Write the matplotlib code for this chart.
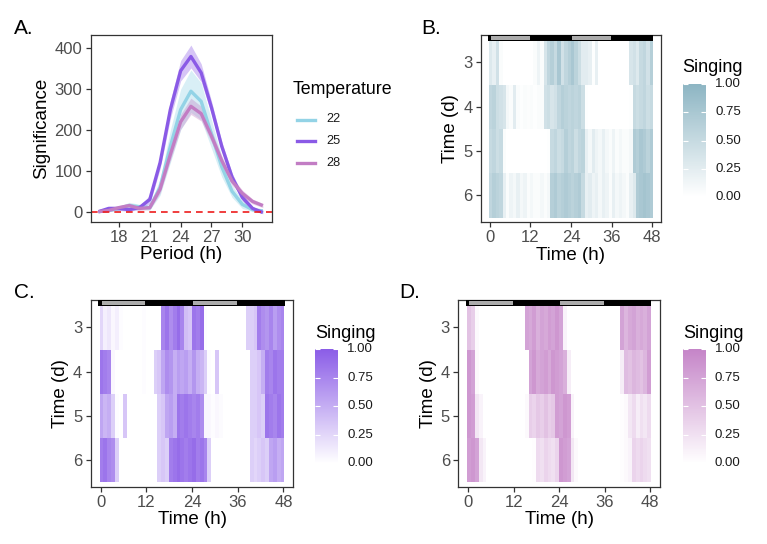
import numpy as np
import matplotlib
matplotlib.use("Agg")
import matplotlib.pyplot as plt
from matplotlib.colors import LinearSegmentedColormap
from matplotlib.patches import Rectangle
from matplotlib.lines import Line2D
from matplotlib.transforms import blended_transform_factory

plt.rcParams['font.family'] = ['Liberation Sans', 'DejaVu Sans']

# ---------------- data ----------------
period = [16, 17, 18, 19, 20, 21, 22, 23, 24, 25, 26, 27, 28, 29, 30, 31, 32]
temps = ["22", "25", "28"]
sig_22 = [0, 3, 8, 15, 12, 10, 60, 160, 250, 295, 270, 190, 110, 50, 18, 5, 2]
sig_25 = [0, 8, 8, 5, 10, 30, 120, 250, 345, 380, 340, 255, 160, 85, 35, 8, -2]
sig_28 = [0, 3, 10, 15, 8, 10, 55, 140, 220, 258, 240, 185, 125, 75, 45, 25, 15]
se_22 = [2, 3, 5, 8, 6, 6, 20, 40, 50, 52, 45, 35, 25, 15, 10, 5, 3]
se_25 = [2, 5, 5, 4, 5, 10, 15, 22, 25, 28, 22, 16, 12, 10, 8, 5, 3]
se_28 = [2, 3, 5, 6, 5, 5, 10, 15, 18, 20, 18, 15, 12, 10, 8, 6, 5]

hours = np.arange(48)           # hour bins
days = [3, 4, 5, 6]
cb_ticks = [0, 0.25, 0.5, 0.75, 1.0]
cb_labels = ["0.00", "0.25", "0.50", "0.75", "1.00"]

sing_22 = [
 [0.3,0.2,0.4,0.05, 0,0,0,0, 0,0,0,0, 0,0.05,0.15,0.05, 0.35,0.55,0.65,0.5, 0.75,0.4,0.55,0.65, 0.75,0.6,0.45,0.25, 0.25,0.2,0.02,0.2, 0,0,0,0, 0,0,0,0, 0,0.35,0.4,0.3, 0.5,0.55,0.4,0.65],
 [0.55,0.6,0.45,0.4, 0.35,0.1,0.05,0.25, 0.05,0.02,0.05,0.03, 0.05,0.02,0.05,0.05, 0.4,0.45,0.35,0.4, 0.55,0.65,0.6,0.55, 0.6,0.55,0.6,0.45, 0.02,0,0,0, 0,0,0,0, 0,0,0,0, 0,0.02,0.5,0.45, 0.5,0.55,0.45,0.5],
 [0.5,0.55,0.45,0.5, 0.05,0,0,0, 0,0,0,0, 0,0,0,0, 0,0.02,0.5,0.55, 0.45,0.5,0.65,0.55, 0.6,0.45,0.55,0.6, 0.2,0.1,0.25,0.15, 0.1,0.2,0.1,0.05, 0.15,0.05,0.1,0.05, 0.05,0.1,0.7,0.65, 0.75,0.7,0.6,0.7],
 [0.55,0.65,0.6,0.55, 0.2,0.05,0.15,0.1, 0.2,0.1,0.15,0.05, 0.1,0.05,0.05,0.1, 0.05,0.1,0.65,0.7, 0.6,0.65,0.7,0.65, 0.6,0.65,0.7,0.5, 0.2,0.25,0.15,0.2, 0.1,0.2,0.15,0.05, 0.2,0.1,0.15,0.1, 0.05,0.2,0.3,0.7, 0.75,0.8,0.75,0.7],
]
sing_25 = [
 [0.25,0.1,0.15,0.05, 0.1,0.02,0,0, 0,0,0,0.02, 0,0,0,0, 0.75,0.85,0.7,0.8, 0.9,0.75,0.4,0.35, 0.85,0.8,0.9,0.02, 0,0,0,0, 0,0,0,0, 0,0,0.3,0.3, 0.35,0.8,0.7,0.65, 0.75,0.6,0.7,0.75],
 [0.85,0.8,0.75,0.05, 0,0,0,0, 0,0,0,0.02, 0,0,0.3,0.35, 0.55,0.7,0.65,0.5, 0.6,0.55,0.6,0.5, 0.65,0.5,0.45,0.3, 0.02,0,0.35,0, 0,0,0,0, 0,0,0,0.3, 0.3,0.35,0.5,0.8, 0.75,0.85,0.8,0.8],
 [0.55,0.45,0.5,0.3, 0.02,0,0.35,0, 0,0,0,0, 0,0,0,0.3, 0.35,0.55,0.6,0.5, 0.85,0.8,0.85,0.8, 0.75,0.8,0.7,0.05, 0.05,0.02,0.05,0.03, 0,0,0,0, 0,0,0,0.3, 0.3,0.35,0.3,0.85, 0.8,0.75,0.85,0.8],
 [0.8,0.85,0.75,0.7, 0.3,0,0,0, 0,0,0,0, 0,0,0,0.3, 0.35,0.3,0.8,0.85, 0.9,0.85,0.8,0.85, 0.9,0.8,0.85,0.75, 0.3,0,0,0, 0,0,0,0, 0,0,0,0.3, 0.25,0.3,0.35,0.3, 0.55,0.6,0.5,0.55],
]
sing_28 = [
 [0.5,0.4,0.05,0, 0,0,0,0, 0,0,0,0, 0,0,0,0.75, 0.7,0.8,0.65,0.75, 0.7,0.8,0.75,0.85, 0.75,0.1,0,0, 0,0,0,0, 0,0,0,0, 0,0,0,0, 0.75,0.6,0.7,0.75, 0.65,0.7,0.65,0.75],
 [0.85,0.75,0.05,0, 0,0,0,0, 0,0,0,0, 0,0,0,0, 0.75,0.85,0.7,0.75, 0.8,0.7,0.85,0.8, 0.75,0.65,0.15,0, 0,0,0,0, 0,0,0,0, 0,0,0,0, 0.15,0.55,0.5,0.6, 0.55,0.5,0.6,0.8],
 [0.85,0.8,0.2,0.1, 0,0,0,0, 0,0,0,0, 0,0,0,0.05, 0.4,0.35,0.45,0.4, 0.5,0.4,0.45,0.8, 0.75,0.85,0.8,0.1, 0,0,0,0, 0,0,0,0, 0,0,0,0, 0.02,0.05,0.2,0.3, 0.15,0.25,0.2,0.3],
 [0.8,0.85,0.75,0.2, 0.1,0,0,0, 0,0,0,0, 0,0,0,0, 0,0.02,0.3,0.25, 0.35,0.3,0.25,0.35, 0.85,0.8,0.75,0.2, 0.05,0,0,0, 0,0,0,0, 0,0,0,0, 0.02,0.05,0.1,0.35, 0.3,0.35,0.3,0.25],
]

col_22 = "#93d3e6"
col_25 = "#8a5ae6"
col_28 = "#c27dc4"
heat_22 = "#8db5c3"
heat_25 = "#8b5de7"
heat_28 = "#c585c8"

W, H = 767, 544
fig = plt.figure(figsize=(W / 100, H / 100), dpi=100)

def ax_at(l, r, t, b):
    return fig.add_axes([l / W, 1 - b / H, (r - l) / W, (b - t) / H])

TICK_COL = "#4d4d4d"
def style(ax):
    for s in ax.spines.values():
        s.set_color("#333333")
        s.set_linewidth(0.9)
    ax.tick_params(direction="out", length=3.5, width=0.9, color="#333333",
                   labelcolor=TICK_COL, labelsize=12, pad=2.5)

# ---------------- Panel A ----------------
axA = ax_at(90.7, 271.7, 35, 221.7)
style(axA)
per = np.array(period)
for vals, se, c in [(sig_22, se_22, col_22), (sig_25, se_25, col_25), (sig_28, se_28, col_28)]:
    v = np.array(vals, float); s = np.array(se, float)
    axA.fill_between(per, v - s, v + s, color=c, alpha=0.35, lw=0)
for vals, c in [(sig_22, col_22), (sig_25, col_25), (sig_28, col_28)]:
    axA.plot(per, vals, color=c, lw=2.4, solid_capstyle="butt", solid_joinstyle="round")
axA.axhline(0, color="#ee1c1c", lw=1.2, ls=(0, (4, 3)))
axA.set_xlim(15.25, 32.86)
axA.set_ylim(-24.5, 432.6)
axA.set_xticks([18, 21, 24, 27, 30])
axA.set_yticks([0, 100, 200, 300, 400])
axA.set_xlabel("Period (h)", fontsize=13.5, labelpad=1)
axA.set_ylabel("Significance", fontsize=13.5, labelpad=3)

# legend for A
fig.text(293 / W, 1 - 90 / H, "Temperature", fontsize=12.8, va="center", ha="left")
for i, (lab, c) in enumerate(zip(temps, [col_22, col_25, col_28])):
    yy = 1 - (119.5 + i * 21.5) / H
    fig.add_artist(Line2D([296.5 / W, 314.5 / W], [yy, yy], color=c, lw=2.4,
                          transform=fig.transFigure))
    fig.text(326 / W, yy, lab, fontsize=9.2, va="center", ha="left", color="#1a1a1a")

# ---------------- Heatmaps ----------------
def heat(axpos, cbpos, data, color, title_y):
    ax = ax_at(*axpos)
    style(ax)
    cmap = LinearSegmentedColormap.from_list("c", ["#ffffff", color])
    edges_x = np.linspace(-0.25, 48.25, len(hours) + 1)
    d = np.array(days)
    edges_y = np.concatenate([d - 0.5, [d[-1] + 0.5]])
    m = ax.pcolormesh(edges_x, edges_y, np.array(data), cmap=cmap, vmin=0, vmax=1,
                      shading="flat", edgecolors="none", antialiased=False)
    ax.set_xlim(-2.6, 50.6)
    ax.set_ylim(6.6, 2.38)
    # light/dark bar
    ax.add_patch(Rectangle((-0.6, 2.38), 48.9, 0.135, facecolor="black", edgecolor="none", zorder=5))
    for x0 in (0, 24):
        ax.add_patch(Rectangle((x0 + 0.25, 2.405), 11.5, 0.085, facecolor="#ababab",
                               edgecolor="none", zorder=6))
    ax.set_xticks([0, 12, 24, 36, 48])
    ax.set_yticks(days)
    ax.set_xlabel("Time (h)", fontsize=13.5, labelpad=1)
    ax.set_ylabel("Time (d)", fontsize=13.5, labelpad=3)
    cax = ax_at(*cbpos)
    cb = fig.colorbar(m, cax=cax)
    cb.outline.set_visible(False)
    cb.set_ticks(cb_ticks)
    cax.tick_params(axis="y", direction="in", length=3.5, width=0.8, color="white",
                    left=True, right=True, labelright=False, labelleft=False)
    tr = blended_transform_factory(fig.transFigure, cax.transData)
    for v, lab in zip(cb_ticks, cb_labels):
        cax.text((cbpos[1] + 9) / W, v, lab, transform=tr, fontsize=9.5,
                 va="center", ha="left", color="#1a1a1a")
    fig.text(cbpos[0] / W, 1 - title_y / H, "Singing", fontsize=13, va="center", ha="left")
    return ax

heat((481, 661, 35, 222), (682.7, 706, 84.3, 196.7), sing_22, heat_22, 68)
heat((90.7, 293.3, 300, 486.7), (315, 338.3, 349.3, 463.3), sing_25, heat_25, 333)
heat((458.3, 660, 300, 486.7), (683.3, 705.7, 349.3, 463.3), sing_28, heat_28, 333)

# panel labels
for lab, x, y in [("A.", 14, 29), ("B.", 421, 29), ("C.", 14, 293), ("D.", 399, 293)]:
    fig.text(x / W, 1 - y / H, lab, fontsize=15, va="center", ha="left")

fig.savefig("out.png", dpi=100)
